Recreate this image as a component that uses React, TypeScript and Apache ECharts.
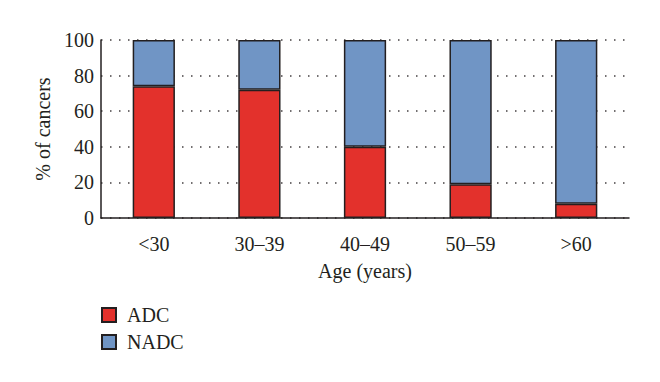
import React, { useEffect, useRef } from "react";
import * as echarts from "echarts";

const categories = ["<30", "30–39", "40–49", "50–59", ">60"];
const adc = [74, 72, 40, 19, 8];
const nadc = [26, 28, 60, 81, 92];
const yTicks = [0, 20, 40, 60, 80, 100];

const FONT = "'Liberation Serif', 'DejaVu Serif', serif";

export default function App() {
  const ref = useRef<HTMLDivElement>(null);
  useEffect(() => {
    if (!ref.current) return;
    const chart = echarts.init(ref.current, undefined, { renderer: "svg" });
    const border = { borderColor: "#231f20", borderWidth: 1.5 };
    chart.setOption({
      animation: false,
      backgroundColor: "#ffffff",
      grid: { left: 93, right: 23, top: 32, bottom: 156 },
      legend: {
        orient: "vertical",
        left: 88,
        top: 292,
        itemWidth: 14,
        itemHeight: 14,
        itemGap: 7,
        icon: "rect",
        textStyle: { fontFamily: FONT, fontSize: 20, color: "#231f20", padding: [0, 0, 0, 6] },
        data: ["ADC", "NADC"],
      },
      xAxis: {
        type: "category",
        data: categories,
        axisLine: { lineStyle: { color: "#231f20", width: 1.5 } },
        axisTick: { show: false },
        axisLabel: { fontFamily: FONT, fontSize: 20, color: "#231f20", margin: 16 },
        name: "Age (years)",
        nameLocation: "middle",
        nameGap: 43,
        nameTextStyle: { fontFamily: FONT, fontSize: 20, color: "#231f20" },
      },
      yAxis: {
        type: "value",
        min: yTicks[0],
        max: yTicks[yTicks.length - 1],
        interval: 20,
        axisLine: { show: true, lineStyle: { color: "#231f20", width: 1.5 } },
        axisTick: { show: false },
        axisLabel: { fontFamily: FONT, fontSize: 20, color: "#231f20", margin: 7 },
        splitLine: {
          show: true,
          lineStyle: { color: "#231f20", width: 1.5, type: [1.5, 7.5], opacity: 0.85 },
        },
        name: "% of cancers",
        nameLocation: "middle",
        nameGap: 45,
        nameTextStyle: { fontFamily: FONT, fontSize: 20, color: "#231f20" },
      },
      series: [
        {
          name: "ADC",
          type: "bar",
          stack: "total",
          data: adc,
          barWidth: "40%",
          itemStyle: { color: "#e3312c", ...border },
        },
        {
          name: "NADC",
          type: "bar",
          stack: "total",
          data: nadc,
          barWidth: "40%",
          itemStyle: { color: "#7095c5", ...border },
        },
      ],
    });
    return () => chart.dispose();
  }, []);
  return <div ref={ref} style={{ width: 644, height: 366 }} />;
}
